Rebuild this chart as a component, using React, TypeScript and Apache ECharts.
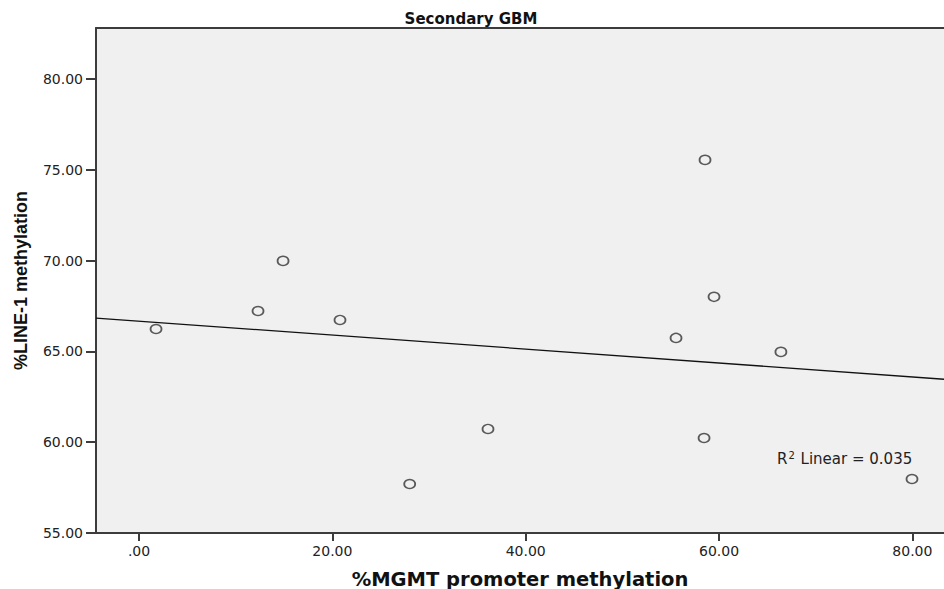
import React, { useEffect, useRef } from "react";
import * as echarts from "echarts";

const mgmt = [1.76, 12.31, 14.9, 20.79, 28.0, 36.1, 55.55, 58.55, 59.48, 58.45, 66.4, 79.96];
const line1 = [66.23, 67.22, 69.98, 66.73, 57.7, 60.73, 65.74, 75.54, 68.0, 60.23, 64.97, 57.97];
const xTicks = [0, 20, 40, 60, 80];
const yTicks = [55, 60, 65, 70, 75, 80];
const X_MIN = -4.45;
const X_MAX = 83.27;
const Y_MIN = 55;
const Y_MAX = 82.8;

function fit(xs: number[], ys: number[]) {
  const n = xs.length;
  const mx = xs.reduce((a, b) => a + b, 0) / n;
  const my = ys.reduce((a, b) => a + b, 0) / n;
  let sxy = 0, sxx = 0, syy = 0;
  for (let i = 0; i < n; i++) {
    sxy += (xs[i] - mx) * (ys[i] - my);
    sxx += (xs[i] - mx) * (xs[i] - mx);
    syy += (ys[i] - my) * (ys[i] - my);
  }
  const slope = sxy / sxx;
  return { slope, intercept: my - slope * mx, r2: (sxy * sxy) / (sxx * syy) };
}

const fmt = (v: number) => (v === 0 ? ".00" : v.toFixed(2));

export default function App() {
  const ref = useRef<HTMLDivElement>(null);
  useEffect(() => {
    document.body.style.margin = "0";
    const chart = echarts.init(ref.current!, undefined, { renderer: "svg" });
    const { slope, intercept } = fit(mgmt, line1);
    const fitLine = [
      [X_MIN, intercept + slope * X_MIN],
      [X_MAX, intercept + slope * X_MAX],
    ];
    const axisColor = "#3c3c3c";
    const labelStyle = {
      color: "#222",
      fontFamily: "DejaVu Sans, Verdana, sans-serif",
      fontSize: 14,
    };
    chart.setOption({
      animation: false,
      backgroundColor: "#ffffff",
      grid: {
        left: 96,
        right: 0,
        top: 28,
        bottom: 56,
        show: true,
        backgroundColor: "#f0f0f0",
        borderWidth: 0,
        containLabel: false,
        outerBoundsMode: "none",
      },
      xAxis: [
        {
          type: "value",
          min: X_MIN,
          max: X_MAX,
          position: "bottom",
          splitLine: { show: false },
          axisLine: { show: true, onZero: false, lineStyle: { color: axisColor, width: 2 } },
          axisTick: {
            show: true,
            length: 8,
            customValues: xTicks,
            lineStyle: { color: axisColor, width: 2 },
          },
          axisLabel: {
            ...labelStyle,
            margin: 11,
            customValues: xTicks,
            formatter: (v: number) => fmt(v),
          },
          name: "%MGMT promoter methylation",
          nameLocation: "middle",
          nameGap: 36,
          nameTextStyle: {
            color: "#111",
            fontFamily: "DejaVu Sans, Verdana, sans-serif",
            fontWeight: "bold",
            fontSize: 19.5,
          },
        },
        {
          type: "value",
          min: X_MIN,
          max: X_MAX,
          position: "top",
          splitLine: { show: false },
          axisLine: { show: true, onZero: false, lineStyle: { color: axisColor, width: 2 } },
          axisTick: { show: false },
          axisLabel: { show: false },
        },
      ],
      yAxis: {
        type: "value",
        min: Y_MIN,
        max: Y_MAX,
        splitLine: { show: false },
        axisLine: { show: true, onZero: false, lineStyle: { color: axisColor, width: 2 } },
        axisTick: {
          show: true,
          length: 10,
          customValues: yTicks,
          lineStyle: { color: axisColor, width: 2 },
        },
        axisLabel: {
          ...labelStyle,
          margin: 13,
          customValues: yTicks,
          formatter: (v: number) => fmt(v),
        },
        name: "%LINE-1 methylation",
        nameLocation: "middle",
        nameGap: 66,
        nameTextStyle: {
          color: "#111",
          fontFamily: "Liberation Sans, Arial, sans-serif",
          fontWeight: "bold",
          fontSize: 18,
        },
      },
      graphic: [
        {
          type: "text",
          x: 471,
          y: 19,
          style: {
            text: "Secondary GBM",
            fill: "#111",
            font: "bold 15px 'DejaVu Sans', Verdana, sans-serif",
            textAlign: "center",
            textVerticalAlign: "middle",
          },
        },
        {
          type: "text",
          x: 777,
          y: 459,
          style: {
            text: "{r|R}{s|2}{r| Linear = 0.035}",
            textAlign: "left",
            textVerticalAlign: "middle",
            rich: {
              r: {
                fill: "#222",
                fontFamily: "DejaVu Sans, Verdana, sans-serif",
                fontSize: 15,
              },
              s: {
                fill: "#222",
                fontFamily: "DejaVu Sans, Verdana, sans-serif",
                fontSize: 10,
                padding: [0, 1, 7, 1],
              },
            },
          },
        },
      ],
      series: [
        {
          type: "line",
          data: fitLine,
          showSymbol: false,
          symbol: "none",
          lineStyle: { color: "#111", width: 1.3 },
          silent: true,
          z: 2,
        },
        {
          type: "scatter",
          data: mgmt.map((x, i) => [x, line1[i]]),
          symbol: "circle",
          symbolSize: [11, 9],
          itemStyle: { color: "#f0f0f0", borderColor: "#333", borderWidth: 1.6 },
          z: 3,
        },
      ],
    });
    return () => chart.dispose();
  }, []);
  return <div ref={ref} style={{ width: 944, height: 589 }} />;
}
